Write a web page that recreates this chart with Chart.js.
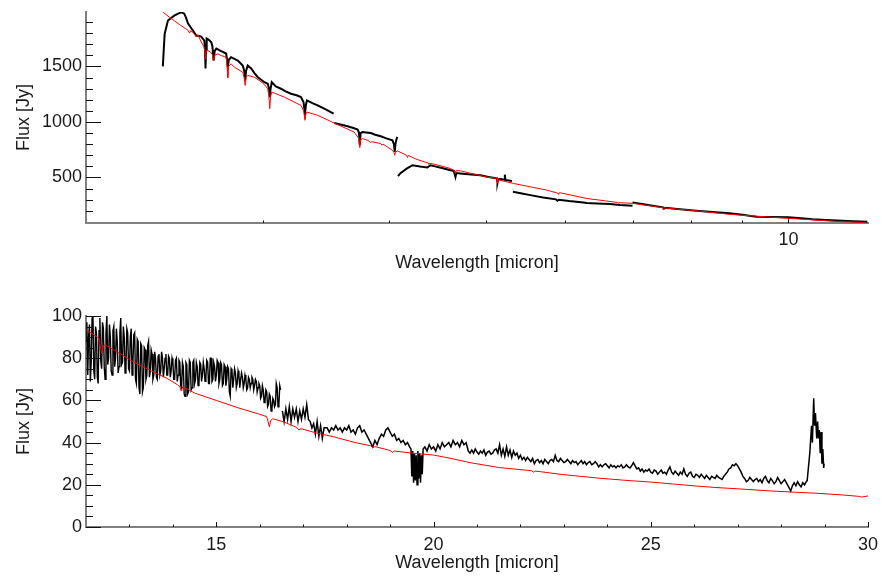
<!DOCTYPE html>
<html><head><meta charset="utf-8">
<script src="https://cdn.jsdelivr.net/npm/chart.js@4.4.0/dist/chart.umd.min.js"></script>
<style>
html,body{margin:0;padding:0;background:#fff;}
#wrap{position:relative;width:881px;height:576px;}
canvas{position:absolute;left:0;}
</style></head><body>
<div id="wrap">
<canvas id="c1" width="881" height="288" style="top:0"></canvas>
<canvas id="c2" width="881" height="288" style="top:288px"></canvas>
</div>
<script>
// ---------- Top panel (2-12 micron, log x) : observed spectrum segments [wavelength, flux] ----------
const topSeg1 = [[2.385,1500],[2.390,1650],[2.395,1793],[2.413,1913],[2.448,1957],[2.470,1975],[2.488,1987],[2.505,1975],[2.515,1940],[2.527,1886],[2.555,1823],[2.575,1778],[2.590,1775],[2.604,1769],[2.623,1733],[2.627,1650],[2.630,1482],[2.633,1650],[2.637,1751],[2.650,1740],[2.665,1718],[2.672,1680],[2.679,1553],[2.686,1640],[2.696,1661],[2.726,1637],[2.757,1616],[2.763,1560],[2.768,1493],[2.774,1560],[2.789,1583],[2.832,1553],[2.864,1508],[2.874,1460],[2.880,1374],[2.886,1460],[2.897,1508],[2.920,1481],[2.942,1440],[2.965,1403],[3.010,1358],[3.033,1344],[3.042,1300],[3.047,1224],[3.053,1300],[3.061,1358],[3.090,1320],[3.126,1299],[3.160,1275],[3.199,1254],[3.240,1240],[3.273,1224],[3.292,1180],[3.303,1076],[3.310,1150],[3.318,1194],[3.360,1170],[3.400,1149],[3.460,1115],[3.527,1075]];
const topSeg2 = [[3.532,990],[3.600,972],[3.642,961],[3.690,945],[3.727,931],[3.738,905],[3.745,790],[3.752,900],[3.769,909],[3.800,905],[3.841,900],[3.880,885],[3.929,871],[3.980,852],[4.036,835],[4.050,800],[4.057,730],[4.064,800],[4.072,840],[4.082,865]];
const topSeg3 = [[4.088,512],[4.113,541],[4.170,580],[4.226,610],[4.300,598],[4.371,590],[4.404,610],[4.450,600],[4.520,585],[4.600,568],[4.645,559],[4.655,530],[4.663,505],[4.672,540],[4.716,536],[4.800,530],[4.938,520],[5.030,505],[5.100,495],[5.129,491],[5.133,460],[5.136,452],[5.142,480],[5.160,488],[5.216,480],[5.222,525],[5.228,478],[5.288,470],[5.308,467]];
const topSeg4 = [[5.320,371],[5.430,356],[5.535,341],[5.700,320],[5.870,303],[5.890,290],[5.910,300],[6.050,288],[6.251,275],[6.300,270],[6.450,266],[6.643,260],[6.800,252],[6.996,245]];
const topSeg5 = [[6.996,275],[7.150,262],[7.300,248],[7.504,231],[7.520,220],[7.540,228],[7.800,214],[8.097,200],[8.400,188],[8.739,177],[9.000,165],[9.290,146],[9.600,144],[10.00,141],[10.30,132],[10.57,123],[10.90,117],[11.32,110],[11.60,105],[11.98,101]];
// model (red)
const topModel = [[2.387,1987],[2.420,1945],[2.450,1910],[2.480,1875],[2.510,1843],[2.527,1825],[2.535,1800],[2.542,1822],[2.555,1805],[2.565,1790],[2.575,1765],[2.585,1785],[2.604,1720],[2.620,1680],[2.626,1640],[2.630,1568],[2.634,1640],[2.644,1643],[2.660,1630],[2.672,1605],[2.679,1553],[2.686,1600],[2.705,1613],[2.726,1598],[2.757,1583],[2.763,1500],[2.768,1398],[2.773,1500],[2.789,1524],[2.810,1493],[2.864,1448],[2.874,1400],[2.880,1329],[2.886,1400],[2.897,1419],[2.942,1403],[3.000,1350],[3.033,1299],[3.041,1230],[3.047,1120],[3.053,1230],[3.061,1269],[3.150,1224],[3.273,1149],[3.293,1100],[3.303,1021],[3.310,1070],[3.318,1089],[3.400,1060],[3.532,990],[3.697,909],[3.738,850],[3.745,769],[3.752,840],[3.769,850],[3.812,835],[3.840,815],[3.850,822],[3.930,805],[3.940,790],[3.950,800],[4.036,745],[4.050,725],[4.057,700],[4.064,725],[4.082,739],[4.170,700],[4.178,680],[4.186,698],[4.270,662],[4.380,630],[4.387,619],[4.394,628],[4.450,618],[4.610,581],[4.655,560],[4.663,536],[4.672,562],[4.716,560],[5.000,505],[5.129,491],[5.136,452],[5.145,478],[5.160,476],[5.327,446],[5.750,386],[5.890,360],[5.900,350],[5.910,360],[5.927,362],[6.300,311],[6.760,275],[6.770,268],[6.780,273],[7.006,267],[7.500,228],[7.504,210],[7.520,226],[8.097,200],[8.739,168],[10.00,132],[10.57,118],[11.32,101],[11.94,96]];
const topXTicks = [3,4,5,6,7,8,9,10];
const topXLabels = [10];
const topYLabels = [500,1000,1500];
const topYMinor = [200,300,400,600,700,800,900,1100,1200,1300,1400,1600,1700,1800,1900];

// ---------- Bottom panel (12-30 micron, linear x) ----------
const botSeg1 = [[12.00,88],[12.02,97],[12.04,72],[12.06,90],[12.08,96],[12.10,69],[12.12,78],[12.14,99],[12.16,100],[12.18,74],[12.20,70],[12.22,95],[12.24,92],[12.26,71],[12.28,68],[12.30,93],[12.32,99],[12.34,79],[12.36,75],[12.38,97],[12.40,94],[12.42,76],[12.44,70],[12.46,92],[12.48,100],[12.50,77],[12.52,80],[12.54,96],[12.56,90],[12.58,74],[12.60,72],[12.62,93],[12.64,95],[12.66,76],[12.68,80],[12.70,94],[12.72,88],[12.74,73],[12.76,76],[12.78,92],[12.80,99],[12.82,77],[12.84,78],[12.86,95],[12.88,90],[12.90,73],[12.92,76],[12.94,94],[12.96,92],[12.98,75],[13.00,74],[13.02,90],[13.04,94],[13.06,72],[13.08,78],[13.10,91],[13.12,92],[13.14,70],[13.16,68],[13.18,89],[13.20,88],[13.22,66],[13.24,63],[13.26,87],[13.28,86],[13.30,64],[13.32,66],[13.34,85],[13.36,84],[13.38,70],[13.40,72],[13.42,86],[13.44,88],[13.46,71],[13.48,74],[13.50,84],[13.52,82],[13.54,70],[13.56,72],[13.58,83],[13.60,80],[13.62,71],[13.64,70],[13.66,81],[13.68,82],[13.70,72],[13.72,74],[13.74,83],[13.76,80],[13.78,71],[13.80,75],[13.82,80],[13.84,82],[13.86,72],[13.88,72],[13.90,81],[13.92,80],[13.94,71],[13.96,74],[13.98,80],[14.00,78],[14.02,70],[14.04,70],[14.06,79],[14.08,80],[14.10,69],[14.12,72],[14.14,79],[14.16,78],[14.18,67],[14.20,66],[14.22,78],[14.24,76],[14.26,63],[14.28,62],[14.30,78],[14.32,77],[14.34,63],[14.36,64],[14.38,79],[14.40,78],[14.42,65],[14.44,66],[14.46,78],[14.48,79],[14.50,68],[14.52,70],[14.54,78],[14.56,76],[14.58,67],[14.60,68],[14.62,78],[14.64,77],[14.66,69],[14.68,72],[14.70,78],[14.72,75],[14.74,69],[14.76,71],[14.78,79],[14.80,78],[14.82,68],[14.84,68],[14.86,80],[14.88,80],[14.90,69],[14.92,70],[14.94,78],[14.96,76],[14.98,69],[15.00,72],[15.02,79],[15.04,78],[15.06,68],[15.08,70],[15.10,78],[15.12,77],[15.14,67],[15.16,68],[15.18,77],[15.20,76],[15.22,67],[15.24,70],[15.26,76],[15.28,75],[15.30,64],[15.32,62],[15.34,75],[15.36,74],[15.38,66],[15.40,70],[15.42,75],[15.44,73],[15.46,66],[15.48,68],[15.50,74],[15.52,72],[15.54,66],[15.56,70],[15.58,73],[15.60,71],[15.62,66],[15.64,68],[15.66,72],[15.68,70],[15.70,65],[15.72,66],[15.74,71],[15.76,70],[15.78,66],[15.80,68],[15.82,71],[15.84,70],[15.86,65],[15.88,67],[15.90,70],[15.92,69],[15.94,64],[15.96,66],[15.98,68],[16.00,67],[16.02,61],[16.04,62],[16.06,67],[16.08,65],[16.10,59],[16.12,60],[16.14,65],[16.16,64],[16.18,57],[16.20,58],[16.22,63],[16.24,62],[16.26,55],[16.28,56],[16.30,61],[16.32,60],[16.34,57],[16.36,58],[16.38,68],[16.40,66],[16.42,57],[16.44,58],[16.46,67],[16.48,65]];
const botSeg2 = [[16.52,55],[16.56,50],[16.60,56],[16.64,51],[16.68,57],[16.72,50],[16.76,56],[16.80,52],[16.84,56],[16.88,50],[16.92,55],[16.96,51],[17.00,56],[17.04,52],[17.08,58],[17.12,51],[17.16,50],[17.20,47],[17.24,49],[17.28,44],[17.32,50],[17.36,43],[17.40,48],[17.44,42],[17.48,47],[17.55,47],[17.60,45],[17.65,47],[17.70,46],[17.75,48],[17.80,46],[17.85,47],[17.90,45],[17.95,47],[18.00,46],[18.05,48],[18.10,45],[18.15,46],[18.20,44],[18.25,47],[18.30,48],[18.35,45],[18.40,46],[18.45,44],[18.50,42],[18.55,40],[18.60,38],[18.65,41],[18.70,39],[18.75,42],[18.80,44],[18.85,43],[18.90,46],[18.95,47],[19.00,45],[19.05,43],[19.10,44],[19.15,41],[19.20,42],[19.25,40],[19.30,41],[19.35,39],[19.40,40],[19.45,38],[19.48,37],[19.50,24],[19.52,36],[19.54,21],[19.56,35],[19.58,22],[19.60,34],[19.62,20],[19.64,36],[19.66,23],[19.68,35],[19.70,21],[19.72,34],[19.74,25],[19.76,37],[19.80,38],[19.85,36],[19.90,39],[19.95,37],[20.00,38],[20.05,36],[20.10,39],[20.15,37],[20.20,40],[20.25,38],[20.30,39],[20.35,40],[20.40,38],[20.45,41],[20.50,39],[20.55,40],[20.60,38],[20.65,41],[20.70,39],[20.75,40],[20.80,36],[20.84,35],[20.88,36.5],[20.92,35],[20.96,37],[21.00,35.5],[21.04,34.5],[21.08,36],[21.12,35],[21.16,36.5],[21.20,34],[21.24,35.5],[21.28,36],[21.32,34.5],[21.36,35],[21.40,36.5],[21.44,37],[21.48,35],[21.52,39],[21.56,34],[21.60,37],[21.64,33.5],[21.68,38],[21.72,34],[21.76,36.5],[21.80,33],[21.84,36],[21.88,34],[21.92,35],[21.96,32.5],[22.00,34],[22.04,32],[22.08,33],[22.12,31.5],[22.16,33],[22.20,32],[22.24,31],[22.28,32.5],[22.32,30],[22.36,31.5],[22.40,32],[22.44,30.5],[22.48,31.5],[22.52,30],[22.56,32],[22.60,31],[22.64,30],[22.68,31.5],[22.72,32],[22.76,31],[22.80,34],[22.84,31.5],[22.88,31],[22.92,32.5],[22.96,31.5],[23.00,30.5],[23.04,31],[23.08,32],[23.12,31],[23.16,30],[23.20,31.5],[23.24,30.5],[23.28,31],[23.32,29.5],[23.36,30.5],[23.40,31.5],[23.44,30],[23.48,31],[23.52,29.5],[23.56,30.5],[23.60,31],[23.64,29.5],[23.68,30],[23.72,31],[23.76,30],[23.80,28.5],[23.84,29.5],[23.88,28.5],[23.92,29.5],[23.96,30],[24.00,29],[24.04,28],[24.08,29.5],[24.12,28.5],[24.16,29],[24.20,28],[24.24,29],[24.28,28.5],[24.32,29.5],[24.36,28],[24.40,28.5],[24.44,29.5],[24.48,28.5],[24.52,28],[24.56,29],[24.60,30.5],[24.64,29],[24.68,27.5],[24.72,28],[24.76,26.5],[24.80,27.5],[24.84,26],[24.88,27],[24.92,26.5],[24.96,27.5],[25.00,26],[25.04,25.5],[25.08,27],[25.12,26.5],[25.16,25],[25.20,26],[25.24,27],[25.28,25.5],[25.32,26],[25.36,25],[25.40,27],[25.44,28.5],[25.48,26],[25.52,25],[25.56,26.5],[25.60,25.5],[25.64,24.5],[25.68,26],[25.72,25],[25.76,27.5],[25.80,25],[25.84,24],[25.88,25.5],[25.92,26],[25.96,24],[26.00,23.5],[26.04,25],[26.08,24.5],[26.12,23.5],[26.16,25],[26.20,24],[26.24,23],[26.28,24.5],[26.32,23.5],[26.36,22.5],[26.40,24],[26.44,23.5],[26.48,23],[26.52,24.5],[26.56,23.5],[26.60,23],[26.64,22.5],[26.68,24],[26.72,25],[26.76,26],[26.80,27.5],[26.84,28],[26.88,29.5],[26.92,29],[26.96,30],[27.00,29],[27.04,27.5],[27.08,26],[27.12,24],[27.16,23],[27.20,21.5],[27.24,22],[27.28,23.5],[27.32,22.5],[27.36,21.5],[27.40,22.5],[27.44,23],[27.48,21.5],[27.52,22.5],[27.56,21],[27.60,23],[27.64,24],[27.68,22],[27.72,21],[27.76,23],[27.80,22],[27.84,20.5],[27.88,21.5],[27.92,23.5],[27.96,22],[28.00,20.5],[28.04,21.5],[28.08,22.5],[28.12,21],[28.16,19.5],[28.20,18],[28.22,17],[28.26,19.5],[28.30,21],[28.34,19.5],[28.38,21.5],[28.42,20],[28.46,19],[28.50,21],[28.54,20],[28.58,21.5],[28.60,22],[28.66,35],[28.70,48],[28.72,40],[28.75,61],[28.77,48],[28.79,54],[28.82,42],[28.84,50],[28.86,42],[28.88,46],[28.90,35],[28.92,45],[28.94,30],[28.96,37],[28.98,28],[28.99,30]];
const botModel = [[12.00,93.4],[12.15,91.5],[12.30,89.5],[12.33,86],[12.36,82.3],[12.40,86],[12.44,86.3],[12.55,85],[12.63,84],[12.80,82],[13.09,78.3],[13.40,75],[13.86,70.5],[14.10,67.5],[14.16,66.5],[14.19,64.5],[14.23,66.5],[14.50,63.5],[15.01,59.9],[15.50,56.5],[16.00,53.4],[16.16,52.3],[16.19,50],[16.22,47.5],[16.25,50.5],[16.30,51.3],[16.54,49.9],[16.85,47.2],[16.90,46],[16.95,46.6],[17.30,44.6],[17.69,42.8],[18.20,40],[18.55,38.5],[18.60,37.6],[18.65,38.1],[19.00,36.3],[19.05,35.4],[19.10,36],[19.50,35],[20.00,34.1],[20.38,32.6],[20.84,30.5],[21.50,28.2],[22.25,26.7],[22.30,26],[22.35,26.5],[23.00,24.8],[23.83,23.1],[24.50,22],[25.00,21.3],[25.50,20.4],[26.06,19.4],[26.50,18.7],[27.00,18.1],[27.75,17.1],[28.30,16.5],[28.82,16.0],[29.40,15.2],[29.80,14.5],[29.85,14.2],[30.00,14.7]];
const botXLabels = [15,20,25,30];
const botXMinor = [13,14,16,17,18,19,21,22,23,24,26,27,28,29];
const botYLabels = [0,20,40,60,80,100];
const botYMinor = [5,10,15,25,30,35,45,50,55,65,70,75,85,90,95];

const FONT = {family: "'Liberation Sans', Arial, Helvetica, sans-serif", size: 18};
const TXT = '#1a1a1a';
const toXY = a => a.map(p => ({x: p[0], y: p[1]}));

const inwardTicks = {
  id: 'inwardTicks',
  afterDraw(chart, args, o) {
    const {ctx, chartArea: a, scales: {x, y}} = chart;
    ctx.save();
    ctx.strokeStyle = '#111';
    ctx.lineWidth = 1;
    ctx.beginPath();
    const xs = (vals, len) => vals.forEach(v => { const p = Math.round(x.getPixelForValue(v)) + 0.5; ctx.moveTo(p, a.bottom); ctx.lineTo(p, a.bottom - len); });
    const ys = (vals, len) => vals.forEach(v => { const p = Math.round(y.getPixelForValue(v)) + 0.5; ctx.moveTo(a.left, p); ctx.lineTo(a.left + len, p); });
    xs(o.xMajor, 5); xs(o.xMinor, 2.5);
    ys(o.yMajor, 15); ys(o.yMinor, 7);
    ctx.stroke();
    ctx.restore();
  }
};

function axisCommon(extra) {
  return Object.assign({
    grid: {display: true, drawOnChartArea: false, drawTicks: false},
    border: {display: true, color: '#808080', width: 2},
  }, extra);
}

function lineDs(arr, color, w) {
  return {data: toXY(arr), showLine: true, borderColor: color, backgroundColor: color, borderWidth: w, pointRadius: 0, fill: false, tension: 0};
}

// top chart
new Chart(document.getElementById('c1'), {
  type: 'scatter',
  data: {datasets: [
    lineDs(topModel, '#ff0000', 1),
    lineDs(topSeg1, '#000', 2), lineDs(topSeg2, '#000', 2), lineDs(topSeg3, '#000', 2),
    lineDs(topSeg4, '#000', 2), lineDs(topSeg5, '#000', 2)
  ]},
  options: {
    responsive: false, animation: false, devicePixelRatio: 1,
    layout: {padding: {left: 0, top: 12, right: 13, bottom: 0}},
    plugins: {legend: {display: false}, tooltip: {enabled: false},
      inwardTicks: {xMajor: [10], xMinor: [3,4,5,6,7,8,9], yMajor: topYLabels, yMinor: topYMinor}},
    scales: {
      x: axisCommon({
        type: 'logarithmic', min: 2, max: 12, position: 'bottom',
        afterBuildTicks: s => { s.ticks = topXTicks.map(v => ({value: v})); },
        afterFit: s => { s.height = 65; s.paddingLeft = 0; s.paddingRight = 0; },
        ticks: {autoSkip: false, maxRotation: 0, minRotation: 0, padding: 6, color: TXT, font: FONT,
          callback: v => topXLabels.includes(v) ? String(v) : ''},
        title: {display: true, text: 'Wavelength [micron]', color: TXT, font: FONT, padding: {top: 0, bottom: 14}}
      }),
      y: axisCommon({
        type: 'linear', min: 90, max: 1990,
        afterBuildTicks: s => { s.ticks = topYLabels.map(v => ({value: v})); },
        afterFit: s => { s.width = 86; s.paddingTop = 0; s.paddingBottom = 0; },
        ticks: {autoSkip: false, padding: 4, color: TXT, font: FONT, callback: v => String(v)},
        title: {display: true, text: 'Flux [Jy]', color: TXT, font: FONT, padding: {top: 13, bottom: 0}}
      })
    }
  },
  plugins: [inwardTicks]
});

// bottom chart
new Chart(document.getElementById('c2'), {
  type: 'scatter',
  data: {datasets: [
    lineDs(botModel, '#ff0000', 1),
    lineDs(botSeg1, '#000', 1.4), lineDs(botSeg2, '#000', 1.5)
  ]},
  options: {
    responsive: false, animation: false, devicePixelRatio: 1,
    layout: {padding: {left: 0, top: 28, right: 13, bottom: 0}},
    plugins: {legend: {display: false}, tooltip: {enabled: false},
      inwardTicks: {xMajor: botXLabels, xMinor: botXMinor, yMajor: botYLabels, yMinor: botYMinor}},
    scales: {
      x: axisCommon({
        type: 'linear', min: 12, max: 30, position: 'bottom',
        afterBuildTicks: s => { s.ticks = botXLabels.map(v => ({value: v})); },
        afterFit: s => { s.height = 49; s.paddingLeft = 0; s.paddingRight = 0; },
        ticks: {autoSkip: false, maxRotation: 0, minRotation: 0, padding: 7, color: TXT, font: FONT, callback: v => String(v)},
        title: {display: true, text: 'Wavelength [micron]', color: TXT, font: FONT, padding: {top: 0, bottom: 2}}
      }),
      y: axisCommon({
        type: 'linear', min: 0, max: 100,
        afterBuildTicks: s => { s.ticks = botYLabels.map(v => ({value: v})); },
        afterFit: s => { s.width = 86; s.paddingTop = 0; s.paddingBottom = 0; },
        ticks: {autoSkip: false, padding: 4, color: TXT, font: FONT, callback: v => String(v)},
        title: {display: true, text: 'Flux [Jy]', color: TXT, font: FONT, padding: {top: 13, bottom: 0}}
      })
    }
  },
  plugins: [inwardTicks]
});
</script>
</body></html>
